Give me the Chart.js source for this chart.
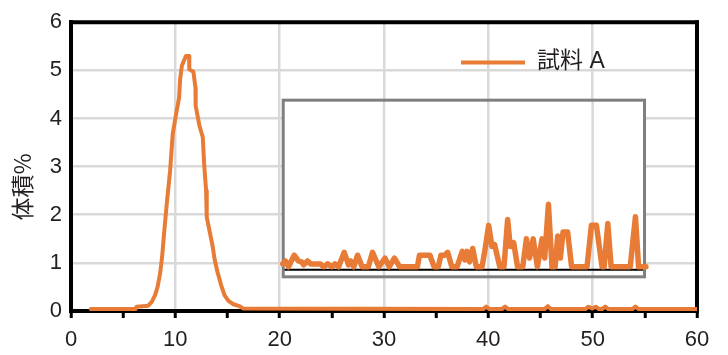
<!DOCTYPE html>
<html><head><meta charset="utf-8">
<script src="https://cdn.jsdelivr.net/npm/chart.js@4/dist/chart.umd.min.js"></script>
<style>html,body{margin:0;padding:0;background:#fff}canvas{display:block}</style>
</head><body>
<canvas id="c" width="728" height="355"></canvas>
<script>
// ---- data ----
const seriesName = '試料 A';
const yTitle = '体積%';
const xTicks = [0, 10, 20, 30, 40, 50, 60];
const yTicks = [0, 1, 2, 3, 4, 5, 6];

const mainX = [1.9, 6.2, 6.3, 7.4, 7.74, 8.06, 8.3, 8.54, 8.73, 8.92, 9.18, 9.5, 9.75, 10.07, 10.36, 10.46, 10.62, 10.84, 11.03, 11.32, 11.34, 11.73, 11.93, 11.95, 12.31, 12.63, 12.76, 12.95, 13.01, 13.33, 13.59, 13.75, 14.04, 14.39, 14.71, 15.09, 15.57, 16.15, 16.53,
  39.5, 39.8, 40.1, 41.3, 41.6, 41.9, 45.4, 45.7, 46.0, 49.3, 49.6, 49.95, 50.3, 50.6, 50.9, 51.2, 51.5, 53.8, 54.1, 54.4, 60];
const mainVolume = [0.04, 0.04, 0.09, 0.11, 0.19, 0.33, 0.50, 0.78, 1.12, 1.61, 2.23, 2.92, 3.68, 4.09, 4.43, 4.81, 5.09, 5.21, 5.30, 5.30, 5.02, 4.97, 4.64, 4.26, 3.85, 3.61, 3.06, 2.50, 1.95, 1.61, 1.33, 1.09, 0.81, 0.54, 0.33, 0.21, 0.14, 0.10, 0.05,
  0.04, 0.09, 0.04, 0.04, 0.09, 0.04, 0.04, 0.10, 0.04, 0.04, 0.09, 0.05, 0.09, 0.04, 0.04, 0.09, 0.04, 0.04, 0.09, 0.04, 0.04];

// magnified inset (x20 of the main scale)
const insetX = [20.30, 20.55, 20.85, 21.39, 21.8, 22.1, 22.3, 22.67, 22.97, 23.4, 23.9, 24.2, 24.6, 25.0, 25.3, 25.65, 26.19, 26.6, 26.8, 27.1, 27.47, 27.9, 28.5, 28.9, 29.5, 30.1, 30.5, 31.0, 31.5, 33.2, 33.4, 34.4, 34.8, 35.2, 35.46, 35.8, 36.1, 36.5, 37.0, 37.5, 37.75, 37.96, 38.2, 38.5, 38.85, 39.4, 39.7, 40.03, 40.35, 40.6, 41.1, 41.5, 41.85, 42.1, 42.43, 42.8, 43.3, 43.65, 43.95, 44.3, 44.7, 45.15, 45.4, 45.76, 46.1, 46.4, 46.65, 46.9, 47.16, 47.6, 47.98, 49.46, 49.88, 50.36, 50.9, 51.1, 51.45, 51.77, 53.6, 54.1, 54.4, 55.1];
const insetVolume = [0.006, 0.009, 0.003, 0.015, 0.009, 0.008, 0.005, 0.009, 0.006, 0.006, 0.006, 0.003, 0.006, 0.003, 0.006, 0.003, 0.018, 0.005, 0.009, 0.003, 0.015, 0.003, 0.003, 0.018, 0.003, 0.012, 0.003, 0.012, 0.003, 0.003, 0.015, 0.015, 0.003, 0.003, 0.015, 0.015, 0.018, 0.003, 0.003, 0.019, 0.010, 0.019, 0.008, 0.022, 0.003, 0.003, 0.022, 0.046, 0.024, 0.026, 0.003, 0.003, 0.052, 0.024, 0.028, 0.003, 0.003, 0.032, 0.012, 0.032, 0.003, 0.032, 0.012, 0.068, 0.003, 0.003, 0.035, 0.012, 0.039, 0.039, 0.003, 0.003, 0.046, 0.046, 0.003, 0.003, 0.048, 0.003, 0.003, 0.055, 0.003, 0.003];

// inset frame, in main-axis units
const insetBoxX = [20.34, 54.97];
const insetBoxY = [0.71, 4.38];

// ---- style ----
const ORANGE = '#e87b35';
const GRID = '#d9d9d9';
const TEXT = '#231f20';
const NUMFONT = '"Liberation Sans", Arial, "Noto Sans CJK JP", sans-serif';
const JPFONT = '"Liberation Sans", "Noto Sans CJK JP", sans-serif';

function seg(ctx, x1, y1, x2, y2) { ctx.beginPath(); ctx.moveTo(x1, y1); ctx.lineTo(x2, y2); ctx.stroke(); }

const insetPlugin = {
  id: 'insetPlugin',
  beforeDatasetsDraw(chart) {
    const { ctx, chartArea: a, scales: { x, y, yi } } = chart;
    const L = x.getPixelForValue(insetBoxX[0]), R = x.getPixelForValue(insetBoxX[1]);
    const T = y.getPixelForValue(insetBoxY[1]), B = y.getPixelForValue(insetBoxY[0]);
    ctx.save();
    ctx.fillStyle = '#fff';
    ctx.fillRect(L, T, R - L, B - T);
    ctx.strokeStyle = GRID; ctx.lineWidth = 2.5;
    xTicks.forEach(v => {
      if (v > insetBoxX[0] && v < insetBoxX[1]) { const px = x.getPixelForValue(v); seg(ctx, px, T, px, B); }
    });
    const y0 = yi.getPixelForValue(0);
    ctx.strokeStyle = '#000'; ctx.lineWidth = 2;
    seg(ctx, L, y0, R, y0);
    ctx.strokeStyle = '#7f7f7f'; ctx.lineWidth = 3;
    ctx.strokeRect(L, T, R - L, B - T);
    // top & right frame
    ctx.strokeStyle = '#000'; ctx.lineWidth = 4;
    seg(ctx, a.left - 2, a.top, a.right + 2, a.top);
    seg(ctx, a.right, a.top - 2, a.right, a.bottom + 2);
    ctx.restore();
  },
  afterDraw(chart) {
    const { ctx } = chart;
    ctx.save();
    // legend
    ctx.strokeStyle = ORANGE; ctx.lineWidth = 4; ctx.lineCap = 'butt';
    seg(ctx, 461, 62.5, 525, 62.5);
    ctx.fillStyle = TEXT; ctx.font = '23px ' + JPFONT;
    ctx.textAlign = 'left'; ctx.textBaseline = 'middle';
    ctx.fillText(seriesName, 537, 62);
    // y title
    ctx.translate(22, 187); ctx.rotate(-Math.PI / 2);
    ctx.textAlign = 'center'; ctx.font = '23px "Noto Sans CJK JP", sans-serif';
    ctx.fillText(yTitle, 0, 0);
    ctx.restore();
  }
};

const line = (xs, ys, axis, w) => ({
  data: xs.map((v, i) => ({ x: v, y: ys[i] })),
  xAxisID: 'x', yAxisID: axis,
  borderColor: ORANGE, backgroundColor: ORANGE, borderWidth: w,
  pointRadius: 0, tension: 0, fill: false,
  borderJoinStyle: 'round', borderCapStyle: 'round'
});

new Chart(document.getElementById('c'), {
  type: 'line',
  data: { datasets: [
    Object.assign(line(mainX, mainVolume, 'y', 4), { label: seriesName }),
    Object.assign(line(insetX, insetVolume, 'yi', 5.5), { label: seriesName + ' (拡大)' })
  ] },
  options: {
    responsive: false, animation: false, devicePixelRatio: 1,
    layout: { padding: { top: 21, right: 31, left: 0, bottom: 0 } },
    plugins: { legend: { display: false }, tooltip: { enabled: false } },
    scales: {
      x: {
        type: 'linear', min: 0, max: 60,
        afterFit(s) { s.height = 44; },
        ticks: { stepSize: 5, autoSkip: false, maxRotation: 0, padding: 9, color: TEXT,
          font: { family: NUMFONT, size: 22 },
          callback: v => xTicks.includes(v) ? String(v) : '' },
        grid: {
          color: c => (c.tick && c.tick.value % 10 === 0 && c.tick.value > 0 && c.tick.value < 60) ? GRID : 'rgba(0,0,0,0)',
          lineWidth: 2.5, drawTicks: true, tickLength: 7, tickWidth: 3, tickColor: '#000'
        },
        border: { color: '#000', width: 4 }
      },
      y: {
        min: 0, max: 6,
        afterFit(s) { s.width = 71; },
        afterBuildTicks(s) { s.ticks = yTicks.map(v => ({ value: v })); },
        ticks: { padding: 9, color: TEXT, font: { family: NUMFONT, size: 22 } },
        grid: {
          color: c => (c.tick && c.tick.value > 0 && c.tick.value < 6) ? GRID : 'rgba(0,0,0,0)',
          lineWidth: 2.5, drawTicks: false
        },
        border: { color: '#000', width: 4 }
      },
      yi: { display: false, min: -0.04295, max: 0.25705 }
    }
  },
  plugins: [insetPlugin]
});
</script>
</body></html>
